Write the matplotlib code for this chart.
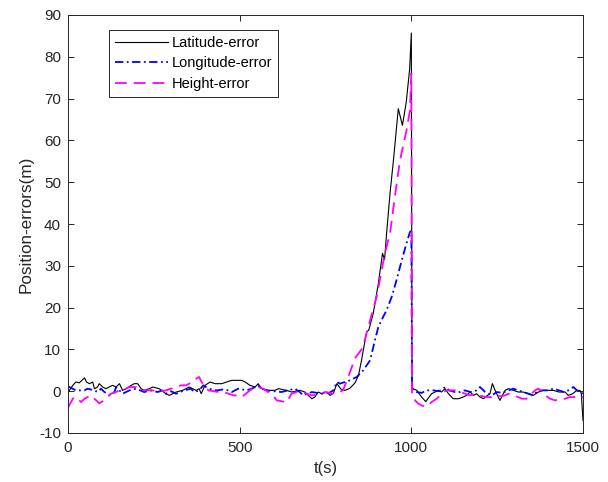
import matplotlib
matplotlib.use("Agg")
import matplotlib.pyplot as plt

plt.rcParams['font.family'] = ['Liberation Sans', 'DejaVu Sans']
plt.rcParams['lines.scale_dashes'] = False
plt.rcParams['axes.unicode_minus'] = False

# ---- data ----
t_lat = [0, 4, 14, 23, 33, 48, 54, 62, 72, 77, 86, 91, 101, 111, 120, 130, 140, 150, 159, 169,
         184, 193, 203, 213, 222, 237, 247, 266, 285, 295, 305, 315, 334, 353, 373, 382, 388, 399,
         414, 428, 448, 462, 477, 491, 506, 516, 530, 545, 554, 564, 583, 603, 613, 637, 651, 676,
         690, 710, 719, 729, 739, 754, 763, 773, 783, 795, 807, 821, 836, 846, 855, 860, 870, 876,
         889, 904, 916, 922, 928, 938, 948, 962, 974, 985, 995, 1000, 1002, 1016, 1030, 1042, 1050,
         1059, 1069, 1079, 1088, 1098, 1108, 1122, 1137, 1151, 1161, 1171, 1181, 1190, 1200, 1210,
         1222, 1229, 1236, 1246, 1258, 1273, 1283, 1297, 1312, 1326, 1341, 1355, 1370, 1385, 1399,
         1414, 1430, 1448, 1457, 1470, 1482, 1491, 1495, 1500]
lat_err = [-0.3, 0.2, 1.4, 2.2, 2.0, 3.2, 2.2, 1.8, 2.2, 0.6, 1.0, 1.8, 1.0, 0.6, 1.0, 1.4, 1.0, 1.8, 0.2, 0.6,
           1.4, 1.8, 1.8, 0.6, 0.2, 0.6, 1.0, 0.6, -0.6, -1.0, -0.6, -0.2, 0.2, 1.0, 0.2, 0.6, -0.6, 1.4,
           2.2, 1.8, 1.8, 2.2, 2.6, 2.6, 2.6, 2.2, 1.4, 1.0, 1.8, 0.6, 0.2, 0.2, 0.6, 0.2, -0.2, 0.2,
           -0.2, -1.8, -1.4, -0.2, -0.6, -0.2, -1.0, -0.5, 1.8, 0.5, 0.2, 0.7, 2.0, 3.8, 7.4, 9.8, 14.2, 14.6,
           18.6, 25.8, 33.0, 31.5, 37.8, 47.4, 55.3, 67.6, 63.6, 69.0, 77.0, 85.7, 0.7, 0.2, -1.4, -2.5, -1.6,
           -0.6, -0.2, 0.2, -0.2, 0.6, -0.6, -1.8, -1.8, -1.4, -1.0, -0.2, -1.0, -0.6, -1.4, -1.8,
           -1.0, -0.6, 1.8, -0.2, -2.2, 0.2, 0.6, 0.2, -0.2, -0.2, -0.6, -1.0, -0.2, 0.2, 0.2,
           0.2, -0.2, -0.2, -1.0, -0.6, 0.2, 0.2, -0.5, -7.0]

t_lon = [0, 4, 23, 48, 57, 77, 86, 96, 106, 115, 125, 135, 140, 150, 159, 179, 198, 222, 240, 261,
         275, 285, 300, 315, 339, 358, 368, 382, 394, 410, 433, 450, 467, 477, 496, 520, 535, 545,
         554, 565, 579, 600, 622, 640, 661, 675, 685, 710, 725, 744, 760, 773, 783, 792, 806, 821,
         841, 860, 880, 894, 904, 918, 928, 943, 957, 972, 986, 996, 1000, 1002, 1016, 1030, 1045,
         1064, 1080, 1093, 1098, 1110, 1127, 1142, 1156, 1172, 1190, 1200, 1215, 1234, 1249, 1265,
         1283, 1297, 1312, 1326, 1341, 1355, 1370, 1385, 1399, 1414, 1430, 1445, 1457, 1472, 1482,
         1491, 1500]
lon_err = [1.0, 1.0, 0.2, 0.2, 0.6, 0.2, -0.2, 0.6, -0.2, -0.6, -1.0, -0.2, 1.0, 0.2, -0.6, 0.2, 0.6, -0.2, 0.2, -0.2,
           0.2, -0.6, 0.0, -0.6, 0.2, 0.6, -0.2, 0.2, 1.4, 0.6, 0.2, 0.4, 0.2, -0.2, 0.6, 0.2, 0.6, 1.0,
           1.4, 0.6, 0.2, 0.0, -0.2, 0.2, 0.6, -0.2, -1.0, -0.2, -0.4, -0.6, -0.4, 0.2, 2.2, 1.8, 2.2, 2.6,
           3.4, 5.0, 7.4, 12.2, 15.4, 17.8, 19.4, 22.6, 26.6, 31.3, 35.4, 38.1, 38.3, 0.6, -0.2, -0.4, 0.2,
           0.2, 0.0, 0.6, 1.0, 0.2, -0.2, -0.2, 0.2, -0.2, 0.2, 1.0, -0.2, -1.0, -0.2, -0.4,
           0.2, 0.6, 0.2, -0.2, -0.6, -1.0, 0.2, 0.2, 0.2, 0.6, 0.2, -0.2, 0.2, 1.0, 0.2,
           -0.2, -0.6]

t_hgt = [0, 4, 14, 18, 28, 38, 48, 57, 67, 82, 91, 101, 115, 125, 140, 150, 169, 179, 198, 217,
         247, 261, 285, 315, 329, 344, 353, 363, 373, 382, 389, 399, 409, 438, 460, 482, 496, 506,
         518, 530, 545, 555, 569, 583, 593, 608, 622, 637, 651, 666, 680, 695, 710, 729, 749, 765,
         778, 783, 801, 816, 836, 855, 862, 880, 899, 923, 938, 952, 967, 986, 996, 1000, 1002, 1011,
         1019, 1030, 1040, 1050, 1059, 1074, 1084, 1093, 1103, 1127, 1142, 1157, 1171, 1183, 1195,
         1220, 1234, 1249, 1260, 1273, 1283, 1300, 1322, 1336, 1348, 1360, 1370, 1380, 1390, 1404,
         1419, 1433, 1448, 1462, 1477, 1491, 1500]
hgt_err = [-4.0, -3.3, -1.8, -1.4, -1.8, -2.6, -1.8, -1.4, -1.0, -2.2, -2.9, -2.4, -1.4, -0.6, -0.2, 0.2, 0.6, 1.0, 1.0, 0.2,
           0.2, -0.2, 0.2, 1.0, 1.4, 1.4, 1.8, 2.6, 3.0, 3.4, 2.2, 1.0, 0.2, -0.2, -0.4, -1.0, -1.0, -1.4,
           -0.6, 0.2, 1.0, 0.9, 0.6, -0.2, -0.6, -2.2, -2.4, -2.7, -0.6, -0.2, -0.3, -0.6, -1.0, -0.8, -0.2, -0.5,
           -0.6, -0.5, 0.2, 3.4, 7.9, 10.0, 11.5, 17.0, 22.6, 33.0, 37.8, 46.5, 55.3, 62.4, 67.2, 76.0, -1.0, -2.2,
           -2.9, -3.4, -3.7, -3.3, -2.6, -1.8, -1.0, -0.2, 0.2, 0.2, -0.2, -0.6, -1.0, -0.7, -1.0,
           -1.4, -1.4, -1.0, -1.2, -1.0, -0.6, -1.0, -1.8, -1.8, -0.8, 0.2, 0.6, 0.0, -1.0, -1.8,
           -2.2, -1.8, -1.8, -1.4, -1.4, -1.0, -1.5]

x_ticks = [0, 500, 1000, 1500]
y_ticks = list(range(-10, 91, 10))
labels = ['Latitude-error', 'Longitude-error', 'Height-error']

fig = plt.figure(figsize=(6.08, 4.82), dpi=100)
ax = fig.add_axes([68/608, 1-433/482, 515/608, 418/482])

ax.plot(t_lat, lat_err, color='black', lw=0.8, label=labels[0])
ax.plot(t_lon, lon_err, color='#0000ff', lw=1.3, linestyle=(0, (6, 2.5, 1.3, 2.5)), label=labels[1])
ax.plot(t_hgt, hgt_err, color='#ff00ff', lw=1.3, linestyle=(0, (8.5, 5)), label=labels[2])

ax.set_xlim(0, 1500)
ax.set_ylim(-10, 90)
ax.set_xticks(x_ticks)
ax.set_yticks(y_ticks)
ax.tick_params(direction='in', top=True, right=True, labelsize=11, length=4, width=0.7,
               colors='#262626')
ax.tick_params(axis='x', pad=6)
ax.tick_params(axis='y', pad=5)
for s in ax.spines.values():
    s.set_linewidth(0.7)
    s.set_color('#262626')
ax.set_xlabel('t(s)', fontsize=12, color='#262626', labelpad=4)
ax.set_ylabel('Position-errors(m)', fontsize=12.3, color='#262626', labelpad=4)

leg = ax.legend(loc='upper left', bbox_to_anchor=(0.080, 0.964), fontsize=10.5, frameon=True,
                fancybox=False, framealpha=1, edgecolor='#262626', handlelength=3.6,
                handletextpad=0.3, borderpad=0.4, labelspacing=0.45, borderaxespad=0)
leg.get_frame().set_linewidth(0.7)

fig.savefig('out.png', dpi=100)
